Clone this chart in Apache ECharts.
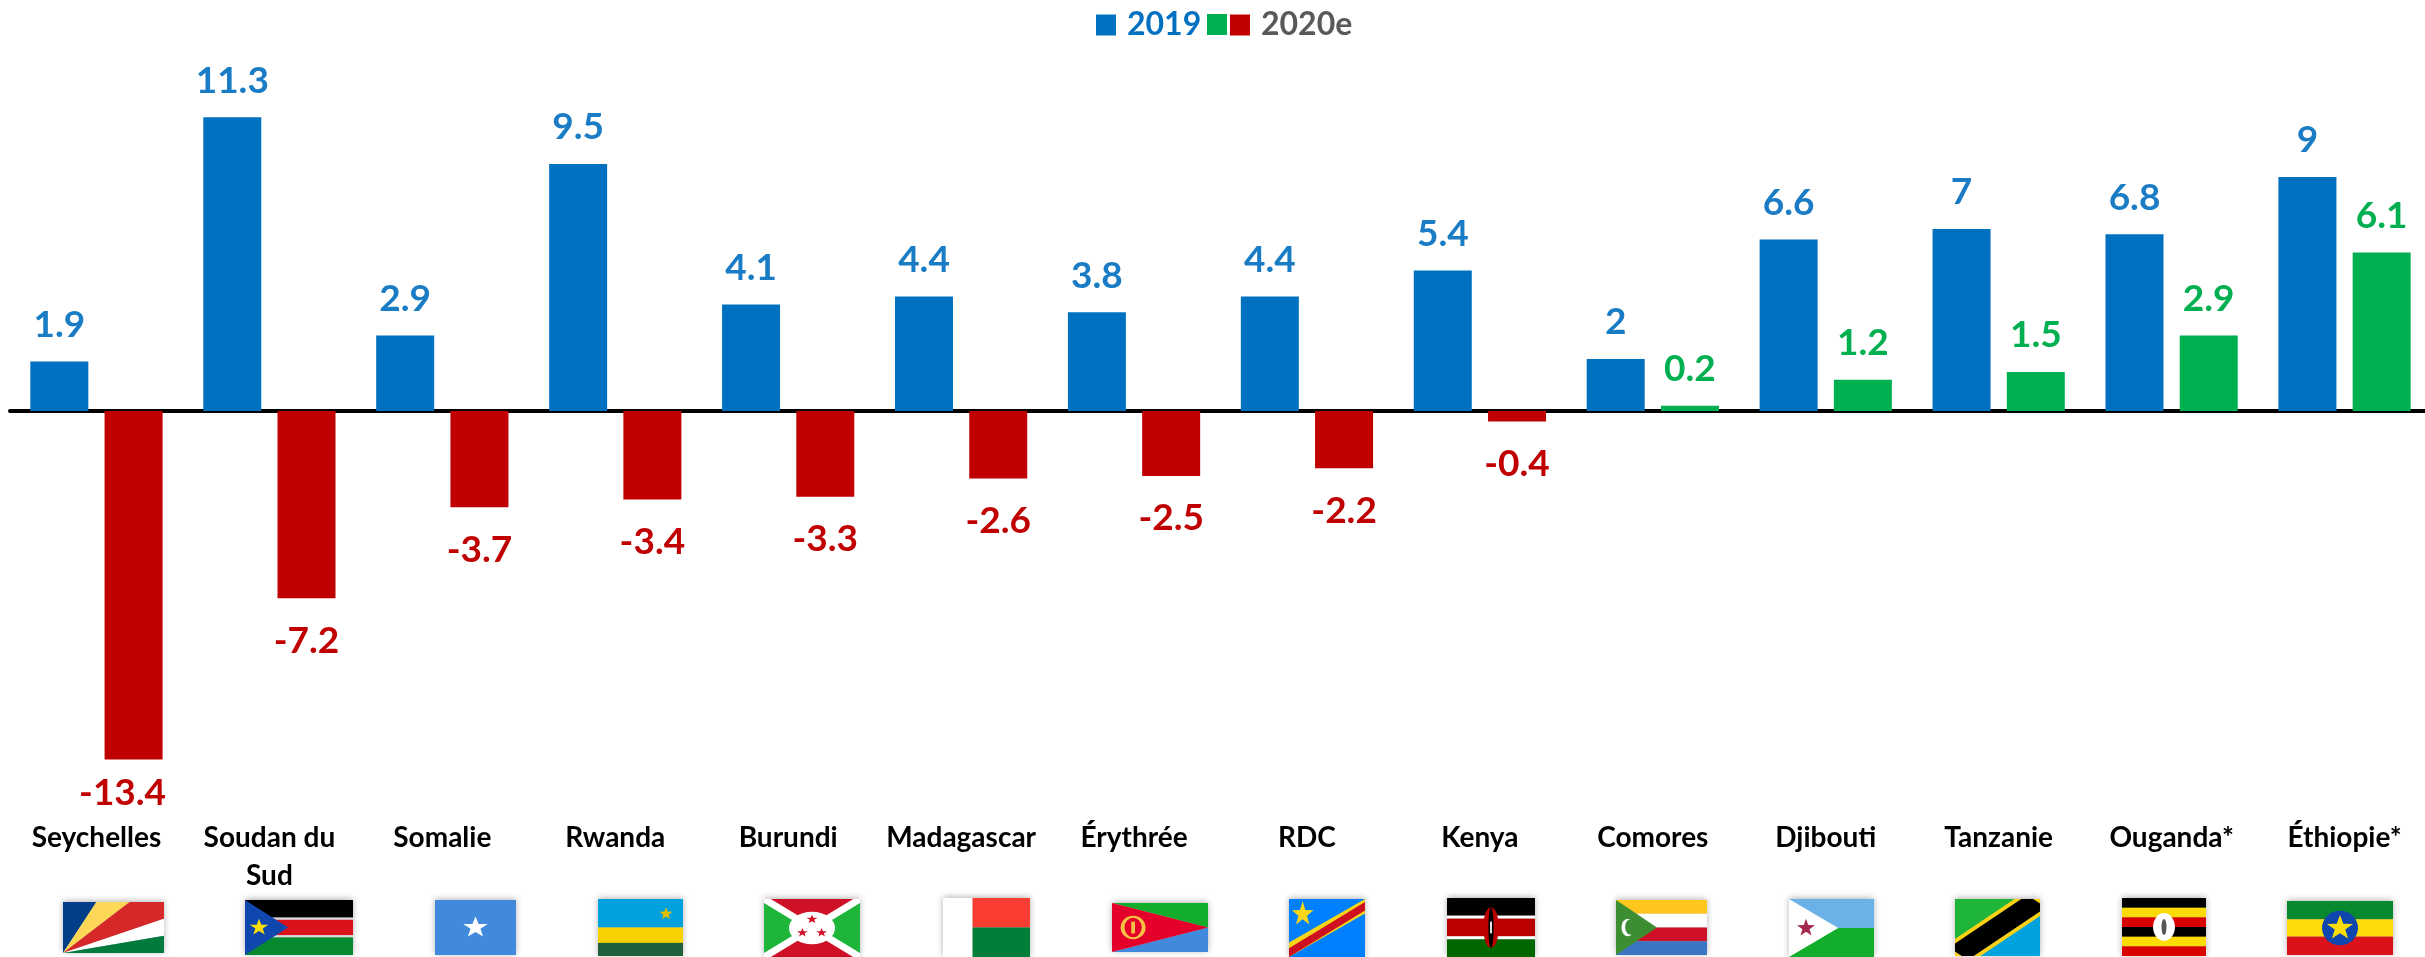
<!DOCTYPE html>
<html>
<head>
<meta charset="utf-8">
<title>Croissance du PIB</title>
<script src="https://cdn.jsdelivr.net/npm/echarts@6/dist/echarts.min.js"></script>
<style>
  html, body { margin: 0; padding: 0; background: #fff; }
  #chart { width: 2425px; height: 957px; }
</style>
</head>
<body>
<div id="chart"></div>
<script>
const categories = ['Seychelles', 'Soudan du\nSud', 'Somalie', 'Rwanda', 'Burundi', 'Madagascar', 'Érythrée',
  'RDC', 'Kenya', 'Comores', 'Djibouti', 'Tanzanie', 'Ouganda*', 'Éthiopie*']
const growth2019 = [1.9, 11.3, 2.9, 9.5, 4.1, 4.4, 3.8, 4.4, 5.4, 2, 6.6, 7, 6.8, 9]
const growth2020 = [-13.4, -7.2, -3.7, -3.4, -3.3, -2.6, -2.5, -2.2, -0.4, 0.2, 1.2, 1.5, 2.9, 6.1]

const BLUE = '#0070c0'
const GREEN = '#00b050'
const RED = '#c00000'

// little svg flags, drawn on a 100x100 box and stretched to the rect
const bands = (list) => {
  const step = 100 / list.length
  return list.map((c, i) => `<rect x="0" y="${i * step}" width="100" height="${step + 0.5}" fill="${c}"/>`).join('')
}
const star = (cx, cy, rx, ry, fill) => {
  const pts = []
  for (let i = 0; i < 10; i++) {
    const r = i % 2 ? 0.4 : 1
    const a = -Math.PI / 2 + i * Math.PI / 5
    pts.push((cx + rx * r * Math.cos(a)).toFixed(2) + ',' + (cy + ry * r * Math.sin(a)).toFixed(2))
  }
  return `<polygon points="${pts.join(' ')}" fill="${fill}"/>`
}
const poly = (points, fill) => `<polygon points="${points}" fill="${fill}"/>`
const rect = (x, y, w, h, fill) => `<rect x="${x}" y="${y}" width="${w}" height="${h}" fill="${fill}"/>`
const oval = (cx, cy, rx, ry, fill) => `<ellipse cx="${cx}" cy="${cy}" rx="${rx}" ry="${ry}" fill="${fill}"/>`

const flagArt = {
  seychelles: poly('0,100 0,0 33,0', '#003f87') + poly('0,100 33,0 66,0', '#fcd856') +
    poly('0,100 66,0 100,0 100,33', '#d62828') + poly('0,100 100,33 100,66', '#fff') + poly('0,100 100,66 100,100', '#007a3d'),
  soudanSud: rect(0, 0, 100, 32, '#000') + rect(0, 32, 100, 4, '#ddd') + rect(0, 36, 100, 28, '#da121a') +
    rect(0, 64, 100, 4, '#ddd') + rect(0, 68, 100, 32, '#078930') + poly('0,0 40,50 0,100', '#0f47af') + star(13, 50, 9, 16, '#fcdd09'),
  somalie: rect(0, 0, 100, 100, '#4189dd') + star(50, 50, 16, 20, '#fff'),
  rwanda: rect(0, 0, 100, 50, '#00a1de') + rect(0, 50, 100, 27, '#fad201') + rect(0, 77, 100, 23, '#20603d') + star(80, 26, 8, 12, '#e5be01'),
  burundi: rect(0, 0, 100, 100, '#1eb53a') + poly('0,0 100,0 50,50', '#ce1126') + poly('0,100 100,100 50,50', '#ce1126') +
    '<path d="M0,0 L100,100 M100,0 L0,100" stroke="#fff" stroke-width="10"/>' + oval(50, 50, 24, 28, '#fff') +
    star(50, 35, 6, 8, '#ce1126') + star(40, 58, 6, 8, '#ce1126') + star(60, 58, 6, 8, '#ce1126'),
  madagascar: rect(0, 0, 34, 100, '#fff') + rect(34, 0, 66, 50, '#fc3d32') + rect(34, 50, 66, 50, '#007e3a'),
  erythree: poly('0,0 100,0 100,50', '#12ad2b') + poly('0,100 100,100 100,50', '#4189dd') + poly('0,0 100,50 0,100', '#e4002b') +
    '<ellipse cx="22" cy="50" rx="11" ry="22" fill="none" stroke="#f5c242" stroke-width="4"/>' + rect(20, 38, 4, 24, '#f5c242'),
  rdc: rect(0, 0, 100, 100, '#007fff') + poly('0,100 0,75 100,0 100,25', '#f7d618') + poly('0,100 0,85 100,5 100,20', '#ce1021') +
    star(18, 26, 15, 22, '#f7d618'),
  kenya: rect(0, 0, 100, 30, '#000') + rect(0, 30, 100, 5, '#fff') + rect(0, 35, 100, 30, '#bb0000') + rect(0, 65, 100, 5, '#fff') +
    rect(0, 70, 100, 30, '#006600') + oval(50, 50, 9, 34, '#bb0000') + oval(50, 50, 3, 34, '#000') + rect(49, 40, 2, 20, '#fff'),
  comores: rect(0, 0, 100, 25, '#ffc61e') + rect(0, 25, 100, 25, '#fff') + rect(0, 50, 100, 25, '#ce1126') + rect(0, 75, 100, 25, '#3a75c4') +
    poly('0,0 45,50 0,100', '#3d8e33') + oval(13, 50, 7, 16, '#fff') + oval(16, 49, 6, 14, '#3d8e33'),
  djibouti: rect(0, 0, 100, 50, '#6ab2e7') + rect(0, 50, 100, 50, '#12ad2b') + poly('0,0 58,50 0,100', '#fff') + star(20, 50, 11, 16, '#a3284b'),
  tanzanie: poly('0,0 100,0 0,100', '#1eb53a') + poly('100,100 100,0 0,100', '#00a3dd') +
    poly('0,100 0,70 70,0 100,0 100,30 30,100', '#fcd116') + poly('0,92 0,78 78,0 92,0 100,8 100,22 22,100 8,100', '#000'),
  ouganda: bands(['#000', '#fcdc04', '#d90000', '#000', '#fcdc04', '#d90000']) + oval(50, 50, 13, 24, '#fff') + oval(50, 50, 3, 14, '#555'),
  ethiopie: rect(0, 0, 100, 34, '#078930') + rect(0, 34, 100, 32, '#fcdd09') + rect(0, 66, 100, 34, '#da121a') +
    oval(50, 50, 17, 32, '#0f47af') + star(50, 50, 13, 24, '#fcdd09')
}

// flag rects as placed on the page: [name, x, y, w, h]
const flagRects = [
  ['seychelles', 63, 902, 101, 51],
  ['soudanSud', 245, 900, 108, 55],
  ['somalie', 435, 900, 81, 55],
  ['rwanda', 598, 899, 85, 57],
  ['burundi', 764, 899, 96, 58],
  ['madagascar', 943, 898, 87, 59],
  ['erythree', 1112, 903, 96, 49],
  ['rdc', 1289, 899, 76, 58],
  ['kenya', 1447, 898, 88, 59],
  ['comores', 1616, 900, 91, 55],
  ['djibouti', 1789, 899, 85, 58],
  ['tanzanie', 1955, 899, 85, 57],
  ['ouganda', 2122, 898, 84, 58],
  ['ethiopie', 2287, 901, 106, 54]
]

const flagImage = (name, w, h) => {
  const svg = `<svg xmlns="http://www.w3.org/2000/svg" width="${w}" height="${h}" viewBox="0 0 100 100" preserveAspectRatio="none">${flagArt[name]}</svg>`
  return 'data:image/svg+xml;charset=utf-8,' + encodeURIComponent(svg)
}

const FONT = 'Lato, "Open Sans", sans-serif'

const valueLabel = (color, position, distance) => ({
  show: true,
  position,
  distance,
  color,
  fontFamily: FONT,
  fontWeight: 'bold',
  fontSize: 37
})

const legendItem = (name, left, top, color, formatter) => ({
  left,
  top,
  padding: 0,
  itemWidth: 20,
  itemHeight: 21,
  selectedMode: false,
  icon: 'rect',
  data: [name],
  formatter,
  textStyle: { color, fontFamily: FONT, fontWeight: 'bold', fontSize: 32, lineHeight: 21, padding: [0, 0, 0, 6] }
})

const chart = echarts.init(document.getElementById('chart'))

chart.setOption({
  animation: false,
  backgroundColor: '#fff',
  legend: [
    legendItem('2019', 1096, 9, BLUE),
    legendItem('2020e hausse', 1207, 14, '#595959', () => ''),
    legendItem('2020e', 1230, 9, '#595959')
  ],
  grid: { left: 10, width: 2421, top: 99, height: 676, outerBoundsMode: 'none' },
  xAxis: [
    {
      type: 'category',
      data: categories,
      position: 'bottom',
      axisLine: { show: false, onZero: false },
      axisTick: { show: false },
      axisLabel: {
        interval: 0,
        margin: 44,
        color: '#000',
        fontFamily: FONT,
        fontWeight: 'bold',
        fontSize: 28,
        lineHeight: 38
      }
    },
    {
      // only here for the black line on zero
      type: 'category',
      data: categories,
      position: 'top',
      axisLine: { show: true, onZero: true, lineStyle: { color: '#000', width: 4 } },
      axisTick: { show: false },
      axisLabel: { show: false }
    }
  ],
  yAxis: { type: 'value', min: -14, max: 12, interval: 2, show: false, splitLine: { show: false } },
  series: [
    {
      name: '2019',
      type: 'bar',
      stack: 'a2019',
      barWidth: 58,
      barGap: '28%',
      data: growth2019,
      itemStyle: { color: BLUE },
      label: valueLabel('#1a7cc4', 'top', 18)
    },
    {
      name: '2020e hausse',
      type: 'bar',
      stack: 'b2020',
      barWidth: 58,
      data: growth2020.map(v => (v > 0 ? v : null)),
      itemStyle: { color: GREEN },
      label: valueLabel(GREEN, 'top', 18)
    },
    {
      name: '2020e',
      type: 'bar',
      stack: 'b2020',
      barWidth: 58,
      // the -13.4 label sits left of its bar and closer to it in the original
      data: growth2020.map((v, i) => (v < 0 ? (i === 0 ? { value: v, label: { offset: [-11, -9] } } : v) : null)),
      itemStyle: { color: RED },
      label: valueLabel(RED, 'bottom', 24)
    }
  ],
  graphic: flagRects.map(([name, x, y, w, h]) => ({
    type: 'image',
    x,
    y,
    silent: true,
    style: {
      image: flagImage(name, w, h),
      width: w,
      height: h,
      shadowBlur: 6,
      shadowColor: 'rgba(0,0,0,0.3)',
      shadowOffsetY: -1
    }
  }))
})
</script>
</body>
</html>
